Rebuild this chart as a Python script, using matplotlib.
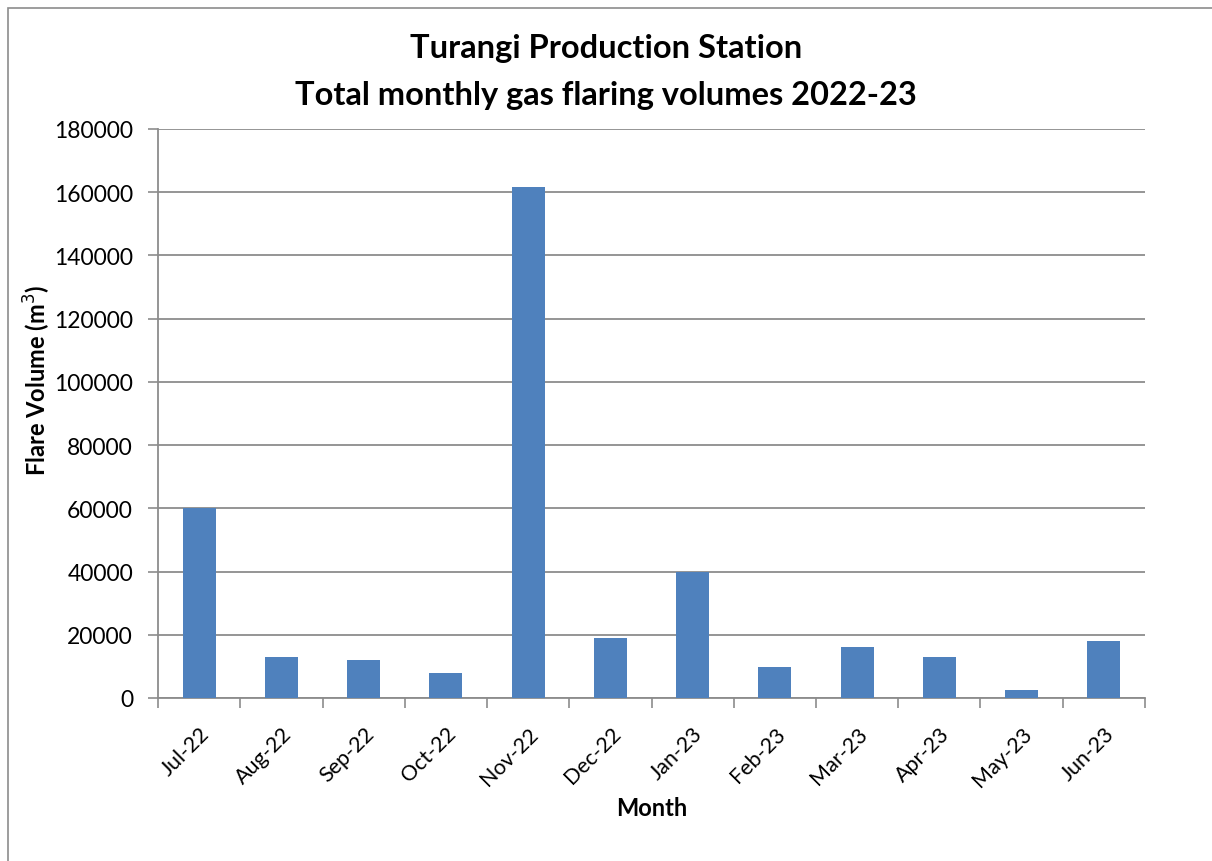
import numpy as np
import matplotlib.pyplot as plt
from matplotlib.patches import Rectangle

months = ['Jul-22', 'Aug-22', 'Sep-22', 'Oct-22', 'Nov-22', 'Dec-22',
          'Jan-23', 'Feb-23', 'Mar-23', 'Apr-23', 'May-23', 'Jun-23']
volumes = [60000, 13000, 12000, 7800, 161500, 18900,
           40000, 9700, 16000, 13100, 2400, 17900]
yticks = [0, 20000, 40000, 60000, 80000, 100000, 120000, 140000, 160000, 180000]

plt.rcParams['font.family'] = ['Lato', 'DejaVu Sans']

fig = plt.figure(figsize=(12.12, 8.62), dpi=100)
ax = fig.add_axes([0.1304, 0.1891, 0.8143, 0.6601])

x = np.arange(len(months))
ax.bar(x, volumes, width=0.4, color='#4f81bd', zorder=3)

ax.set_xlim(-0.5, len(months) - 0.5)
ax.set_ylim(0, 180000)
ax.set_yticks(yticks)
ax.set_yticklabels([str(v) for v in yticks], fontsize=16.5)
ax.yaxis.grid(True, color='#8c8c8c', linewidth=1.3, zorder=0)

# category ticks sit on the boundaries, labels at the centres
ax.set_xticks(np.arange(-0.5, len(months) + 0.5, 1))
ax.set_xticklabels([])
ax.set_xticks(x, minor=True)
ax.set_xticklabels(months, minor=True, rotation=45, ha='right',
                   rotation_mode='anchor', fontsize=15.5)
ax.tick_params(axis='x', which='major', length=7, color='#8c8c8c', width=1.2)
ax.tick_params(axis='x', which='minor', length=0, pad=18)
ax.tick_params(axis='y', length=7, color='#8c8c8c', width=1.2, pad=11)

for side in ['top', 'right']:
    ax.spines[side].set_visible(False)
for side in ['left', 'bottom']:
    ax.spines[side].set_color('#8c8c8c')
    ax.spines[side].set_linewidth(1.3)

ax.set_xlabel('Month', fontsize=17, fontweight='bold', labelpad=4)
ax.set_ylabel('Flare Volume (m$^3$)', fontsize=17, fontweight='bold')
ax.yaxis.set_label_coords(-0.106, 0.56)
fig.text(0.5, 0.944, 'Turangi Production Station', ha='center', va='center',
         fontsize=23.5, fontweight='bold')
fig.text(0.5, 0.889, 'Total monthly gas flaring volumes 2022-23', ha='center',
         va='center', fontsize=23.5, fontweight='bold')

fig.patches.append(Rectangle((0.007, -0.01), 1.0, 1.0, transform=fig.transFigure,
                             fill=False, edgecolor='#8c8c8c', linewidth=1.2))

fig.savefig('out.png', dpi=100)
